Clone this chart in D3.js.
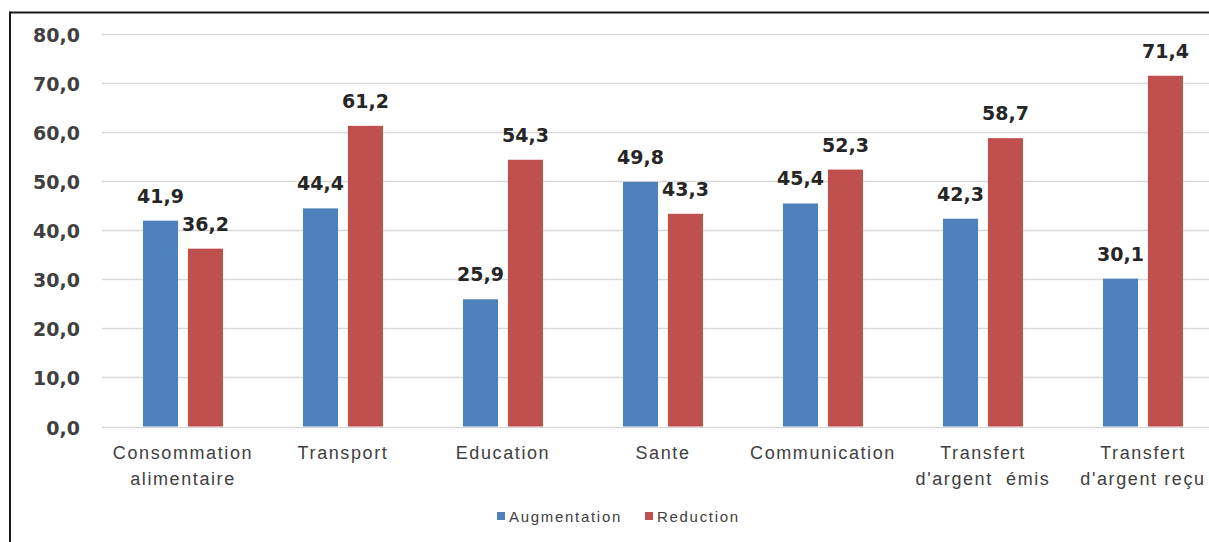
<!DOCTYPE html>
<html>
<head>
<meta charset="utf-8">
<script src="https://cdn.jsdelivr.net/npm/d3@7"></script>
<style>
  html, body { margin: 0; padding: 0; background: #fff; }
  svg { display: block; }
</style>
</head>
<body>
<svg id="chart" width="1209" height="542"></svg>
<script>
const categories = [
  ["Consommation", "alimentaire"],
  ["Transport"],
  ["Education"],
  ["Sante"],
  ["Communication"],
  ["Transfert", "d'argent  émis"],
  ["Transfert", "d'argent reçu"]
];
const seriesNames = ["Augmentation", "Reduction"];
const augmentation = [41.9, 44.4, 25.9, 49.8, 45.4, 42.3, 30.1];
const reduction = [36.2, 61.2, 54.3, 43.3, 52.3, 58.7, 71.4];
const yTicks = [0, 10, 20, 30, 40, 50, 60, 70, 80];
const colors = ["#4F81BD", "#C0504D"];

const svg = d3.select("#chart");
const W = 1209, H = 542;

// frame
svg.append("line").attr("x1", 10).attr("x2", W).attr("y1", 12.5).attr("y2", 12.5)
  .attr("stroke", "#1a1a1a").attr("stroke-width", 2);
svg.append("line").attr("x1", 10).attr("x2", 10).attr("y1", 11.5).attr("y2", H)
  .attr("stroke", "#1a1a1a").attr("stroke-width", 2);

const catKeys = categories.map(c => c.join(" "));
const x0 = d3.scaleBand().domain(catKeys).range([103, 1223]).padding(0);
const x1 = d3.scaleBand().domain(seriesNames).range([-40, 40]).paddingInner(0.22);
const y = d3.scaleLinear().domain([0, 80]).range([426.5, 33.5]);

// gridlines
svg.append("g").selectAll("line").data(yTicks).join("line")
  .attr("x1", 102).attr("x2", W)
  .attr("y1", d => Math.round(y(d)) + 0.5).attr("y2", d => Math.round(y(d)) + 0.5)
  .attr("stroke", "#d9d9d9").attr("stroke-width", 1.5);

// y axis labels
const fmt = v => d3.format(".1f")(v).replace(".", ",");
svg.append("g").selectAll("text").data(yTicks).join("text")
  .attr("x", 80).attr("y", d => y(d) + 8)
  .attr("text-anchor", "end")
  .attr("font-family", "DejaVu Sans")
  .attr("font-weight", "bold")
  .attr("font-size", 19)
  .attr("fill", "#404040")
  .text(d => fmt(d));

// bars
const data = catKeys.map((k, i) => ({
  key: k,
  vals: [
    { s: seriesNames[0], v: augmentation[i], c: colors[0] },
    { s: seriesNames[1], v: reduction[i], c: colors[1] }
  ]
}));

const groups = svg.append("g").selectAll("g").data(data).join("g")
  .attr("transform", d => `translate(${x0(d.key) + x0.bandwidth() / 2},0)`);

groups.selectAll("rect").data(d => d.vals).join("rect")
  .attr("x", d => x1(d.s))
  .attr("width", x1.bandwidth())
  .attr("y", d => y(d.v))
  .attr("height", d => y(0) - y(d.v))
  .attr("fill", d => d.c);

groups.selectAll("text.val").data(d => d.vals).join("text")
  .attr("class", "val")
  .attr("x", d => x1(d.s) + x1.bandwidth() / 2)
  .attr("y", d => y(d.v) - 18)
  .attr("text-anchor", "middle")
  .attr("font-family", "DejaVu Sans")
  .attr("font-weight", "bold")
  .attr("font-size", 19)
  .attr("fill", "#262626")
  .text(d => fmt(d.v));

// category labels
const catG = svg.append("g").selectAll("text").data(categories).join("text")
  .attr("x", (d, i) => x0(catKeys[i]) + x0.bandwidth() / 2)
  .attr("y", 459)
  .attr("text-anchor", "middle")
  .attr("font-family", "Liberation Sans, Arial")
  .attr("font-size", 18)
  .attr("letter-spacing", "1.6px")
  .attr("fill", "#404040")
  .attr("xml:space", "preserve")
  .style("white-space", "pre");
catG.selectAll("tspan").data(d => d).join("tspan")
  .attr("x", function() { return d3.select(this.parentNode).attr("x"); })
  .attr("dy", (d, i) => i === 0 ? 0 : 26)
  .text(d => d);

// legend
const legendItems = [
  { name: seriesNames[0], c: colors[0], x: 497 },
  { name: seriesNames[1], c: colors[1], x: 645 }
];
const lg = svg.append("g").selectAll("g").data(legendItems).join("g");
lg.append("rect").attr("x", d => d.x).attr("y", 512).attr("width", 8).attr("height", 8)
  .attr("fill", d => d.c);
lg.append("text").attr("x", d => d.x + 12).attr("y", 522)
  .attr("font-family", "Liberation Sans, Arial")
  .attr("font-size", 15)
  .attr("letter-spacing", "1.7px")
  .attr("fill", "#404040")
  .text(d => d.name);
</script>
</body>
</html>
